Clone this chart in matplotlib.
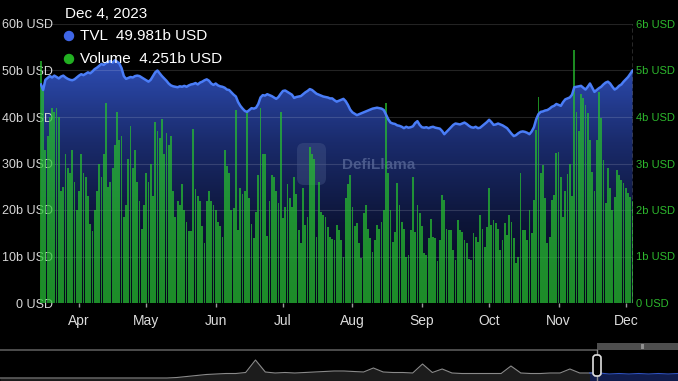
import matplotlib
matplotlib.use('Agg')
import matplotlib.pyplot as plt
import matplotlib.dates as mdates
from matplotlib.colors import LinearSegmentedColormap
from matplotlib.patches import Polygon, FancyBboxPatch, Rectangle, Circle
from matplotlib.transforms import IdentityTransform
import numpy as np
import pandas as pd

# TVL in billions USD, one value per day from 2023-03-15 to 2023-12-04
tvl = [
    47.0, 45.8, 48.0, 48.4, 48.8, 48.5, 48.9, 48.6, 48.3, 48.7,
    48.9, 48.5, 48.2, 48.0, 47.9, 48.1, 48.5, 48.9, 49.2, 49.0,
    49.3, 49.6, 49.4, 49.8, 50.3, 50.6, 51.0, 51.4, 51.2, 51.6,
    51.8, 52.0, 51.7, 52.2, 51.9, 51.5, 50.5, 48.8, 48.2, 48.4,
    48.6, 48.5, 48.8, 48.9, 48.8, 48.5, 48.2, 47.9, 47.6, 48.0,
    48.8, 49.6, 50.0, 49.4, 48.8, 48.3, 47.8, 47.2, 46.8, 46.6,
    46.5, 46.4, 46.6, 46.5, 46.7, 46.5, 46.8, 47.0, 47.1, 47.3,
    47.0, 47.4, 47.6, 47.9, 48.1, 47.8, 47.2, 46.9, 47.2, 46.8,
    46.6, 46.5, 46.3, 45.9, 45.8, 45.3, 44.8, 44.4, 43.2, 42.4,
    41.8, 41.3, 41.1, 41.5, 41.9, 41.8, 42.0, 42.8, 44.2, 44.7,
    44.6, 44.9, 44.7, 44.5, 44.2, 43.9, 44.3, 45.0, 45.6, 45.7,
    45.4, 45.1, 44.8, 44.1, 44.3, 44.4, 44.5, 44.9, 45.3, 45.6,
    46.0, 45.8, 45.4, 45.0, 44.8, 44.6, 44.4, 44.3, 44.2, 44.0,
    44.0, 43.6, 43.3, 43.5, 43.7, 43.9, 43.4, 42.6, 41.6, 41.0,
    40.7, 40.4, 40.6, 40.8, 41.0, 41.2, 41.4, 41.6, 41.8, 41.9,
    42.0, 41.9, 41.8, 41.5, 40.5, 39.5, 38.8, 38.6, 38.5, 38.2,
    38.1, 37.9, 37.6, 37.9, 37.7, 37.8, 38.0, 38.7, 39.1, 38.3,
    37.8, 37.7, 37.8, 37.6, 37.8, 37.9, 37.7, 37.6, 37.5, 37.0,
    36.3, 36.8, 37.3, 37.8, 38.3, 38.6, 38.5, 38.4, 38.6, 38.8,
    38.5, 38.1, 37.8, 37.7, 37.9, 37.6, 37.7, 38.1, 38.5, 38.9,
    39.4, 38.9, 38.3, 38.4, 38.6, 38.4, 38.2, 37.9, 37.6, 37.0,
    36.4, 35.9, 36.1, 36.5, 36.8, 36.9, 36.8, 36.6, 36.3, 36.9,
    37.8, 39.5, 40.6, 41.1, 41.2, 41.4, 41.5, 41.8, 42.2, 42.4,
    42.8, 42.6, 42.4, 43.2, 43.8, 44.0, 44.2, 44.8, 46.4, 46.5,
    46.6, 46.7, 46.3, 45.9, 46.5, 47.2, 46.3, 45.4, 45.8, 46.2,
    46.5, 47.0, 47.4, 47.6, 47.2, 46.5, 45.9, 46.2, 46.7, 47.0,
    47.6, 48.1, 48.6, 49.3, 49.981,
]

# DEX volume in billions USD, same days
volume = [
    5.2, 4.6, 3.3, 3.6, 4.0, 4.2, 4.1, 4.2, 4.0, 2.4,
    2.5, 3.2, 2.9, 2.8, 3.3, 2.6, 2.0, 2.4, 3.2, 2.8,
    2.7, 2.3, 1.7, 1.55, 2.0, 2.4, 3.0, 2.7, 3.2, 4.3,
    2.5, 2.6, 2.9, 3.4, 4.1, 3.5, 3.6, 1.85, 2.1, 3.1,
    3.8, 2.9, 3.3, 2.6, 2.2, 1.6, 2.1, 2.8, 2.6, 3.0,
    2.3, 3.9, 3.7, 3.55, 3.95, 3.2, 3.65, 3.4, 3.6, 2.4,
    1.85, 2.2, 2.1, 2.55, 2.0, 1.75, 1.55, 1.55, 3.75, 2.45,
    2.3, 2.2, 1.65, 1.3, 2.2, 2.4, 2.2, 2.1, 2.0, 1.75,
    1.65, 1.43, 3.3, 2.95, 2.8, 2.0, 2.05, 4.15, 1.57, 2.47,
    2.35, 2.4, 4.1, 2.25, 1.7, 1.4, 1.95, 2.75, 4.2, 3.2,
    3.2, 1.45, 2.2, 2.75, 2.7, 2.4, 2.15, 4.1, 1.82, 2.07,
    2.55, 2.25, 2.07, 2.7, 2.35, 1.57, 1.28, 2.47, 1.67, 1.85,
    3.35, 3.2, 3.1, 1.42, 2.6, 1.95, 1.9, 1.85, 1.63, 1.42,
    1.38, 1.35, 1.68, 1.57, 1.35, 1.0, 2.25, 2.55, 2.75, 2.07,
    1.65, 1.72, 1.28, 0.97, 1.93, 2.1, 1.6, 1.4, 1.1, 1.35,
    1.68, 1.6, 1.75, 2.0, 4.3, 2.8, 2.0, 1.32, 1.53, 2.57,
    2.1, 1.75, 1.6, 1.0, 1.03, 1.57, 2.7, 1.53, 2.1, 1.93,
    1.65, 1.07, 1.03, 1.4, 1.8, 1.42, 1.39, 0.9, 1.35, 2.32,
    2.21, 1.6, 1.57, 1.57, 1.14, 0.92, 1.78, 1.57, 1.53, 1.35,
    1.28, 0.95, 0.92, 1.5, 1.42, 1.32, 1.9, 1.6, 1.21, 1.64,
    2.47, 1.68, 1.78, 1.71, 1.6, 1.14, 1.35, 1.71, 1.46, 1.89,
    1.75, 1.39, 0.85, 1.0, 2.8, 1.57, 1.57, 1.35, 2.0, 1.5,
    2.21, 3.72, 4.44, 2.8, 2.97, 2.25, 1.28, 1.42, 2.21, 2.32,
    3.22, 3.25, 2.72, 1.85, 2.4, 2.78, 3.0, 2.3, 5.44, 4.1,
    3.7, 4.5, 4.4, 4.26, 4.08, 3.5, 2.82, 2.4, 3.5, 4.54,
    3.97, 3.08, 2.14, 2.9, 2.47, 2.0, 2.29, 2.86, 2.75, 2.64,
    2.58, 2.47, 2.36, 2.29, 2.2,
]

months = ['Apr', 'May', 'Jun', 'Jul', 'Aug', 'Sep', 'Oct', 'Nov', 'Dec']
left_labels = ['0 USD', '10b USD', '20b USD', '30b USD', '40b USD', '50b USD', '60b USD']
right_labels = ['0 USD', '1b USD', '2b USD', '3b USD', '4b USD', '5b USD', '6b USD']

# overview strip at the bottom (whole history, relative height)
brush = [
    3, 3, 3, 3, 3, 3, 3, 3, 3, 3,
    3, 3, 3, 3, 3, 3, 3, 3, 3.5, 4.5,
    5.5, 6.5, 7, 7.5, 7.5, 8.5, 21, 9, 8, 8.5,
    8, 8.5, 9, 9.5, 10, 10, 9.5, 9, 13, 9,
    8.5, 8.5, 8, 17, 8.5, 12, 8, 7.5, 7.5, 7.5,
    7.5, 7.5, 15, 8, 7.5, 7.5, 8, 8, 12, 8,
    8, 8, 7, 7.5, 7, 7.5, 7, 7.5, 7, 7.5,
]

plt.rcParams['font.family'] = ['Liberation Sans', 'DejaVu Sans']

W, H = 678, 381
dates = pd.date_range('2023-03-15', periods=len(tvl), freq='D')
x = mdates.date2num(dates)

fig = plt.figure(figsize=(W / 100, H / 100), dpi=100, facecolor='black')
ax = fig.add_axes([40 / W, 78 / H, 593 / W, 279 / H])
ax.set_facecolor('black')

# gradient under the TVL line
cmap = LinearSegmentedColormap.from_list(
    'tvl', ['#05071a', '#0d1538', '#1a2b6c', '#2d4cb2'])
grad = np.linspace(0, 1, 256).reshape(-1, 1)
im = ax.imshow(grad, extent=[x[0] - 0.5, x[-1] + 0.5, 0, 52], origin='lower',
               aspect='auto', cmap=cmap, zorder=1)
verts = [(x[0], 0)] + list(zip(x, tvl)) + [(x[-1], 0)]
clip = Polygon(verts, closed=True, facecolor='none', edgecolor='none',
               transform=ax.transData)
ax.add_patch(clip)
im.set_clip_path(clip)

for v in range(10, 61, 10):
    ax.axhline(v, color='white', alpha=0.14, lw=0.8, zorder=2)

# watermark
ax.text((379 - 40) / 593, (303 - 165) / 279, 'DefiLlama', transform=ax.transAxes,
        color='#5a6a9a', alpha=0.75, fontsize=11, fontweight='bold',
        ha='center', va='center', zorder=2.5)
ax.add_patch(FancyBboxPatch((297, 196), 29, 42,
                            boxstyle='round,pad=0,rounding_size=7',
                            facecolor='#4a5b8c', alpha=0.4, edgecolor='none',
                            transform=IdentityTransform(), zorder=2.5))

# volume bars (drawn on the TVL scale, right axis shows volume)
ax.bar(x, np.array(volume) * 10, width=0.8, color='#27c02f', alpha=0.72,
       linewidth=0, zorder=3)
ax.plot(x, tvl, color='#4a7df7', lw=1.8, zorder=4, solid_joinstyle='round')
ax.axvline(x[-1], color='#cfcfcf', lw=1, ls=(0, (3, 2)), zorder=5)

ax.set_xlim(x[0] - 0.4, x[-1] + 0.2)
ax.set_ylim(0, 60)
for s in ax.spines.values():
    s.set_visible(False)

ax.set_yticks(range(0, 61, 10))
ax.set_yticklabels(left_labels)
ax.tick_params(axis='y', length=0, pad=-9.0, labelcolor='#d8d8d8', labelsize=9)

month_starts = pd.date_range('2023-04-01', periods=len(months), freq='MS')
ax.set_xticks(mdates.date2num(month_starts))
ax.set_xticklabels(months)
ax.tick_params(axis='x', length=3, width=1, color='#9a9a9a', pad=5,
               labelcolor='#dcdcdc', labelsize=10)

sec = ax.secondary_yaxis('right', functions=(lambda v: v / 10, lambda v: v * 10))
sec.set_yticks(range(7))
sec.set_yticklabels(right_labels)
sec.tick_params(length=0, pad=2.5, labelcolor='#2db82d', labelsize=8)
for s in sec.spines.values():
    s.set_visible(False)

# tooltip
fig.text(65 / W, 1 - 14 / H, 'Dec 4, 2023', color='white', fontsize=11, va='center')
fig.add_artist(Circle((69, H - 36), 4.5, color='#3f66e6', transform=IdentityTransform()))
fig.text(80 / W, 1 - 36 / H, 'TVL  49.981b USD', color='white', fontsize=11, va='center')
fig.add_artist(Circle((69, H - 59), 4.5, color='#22b022', transform=IdentityTransform()))
fig.text(80 / W, 1 - 59 / H, 'Volume  4.251b USD', color='white', fontsize=11, va='center')

# overview brush
ax_b = fig.add_axes([0, 0, 1, 38 / H])
ax_b.set_facecolor('black')
ax_b.set_axis_off()
n = len(brush)
ax_b.set_xlim(0, n - 1)
ax_b.set_ylim(0, 38)
idx = np.arange(n)
sel = 597 / W * (n - 1)
cut = int(np.ceil(sel))
ax_b.fill_between(idx[:cut + 1], brush[:cut + 1], color='#1c1c1c', lw=0)
ax_b.plot(idx[:cut + 1], brush[:cut + 1], color='#8a8a8a', lw=0.8)
ax_b.fill_between(idx[cut - 1:], brush[cut - 1:], color='#101c4c', lw=0)
ax_b.plot(idx[cut - 1:], brush[cut - 1:], color='#2f52c0', lw=0.8)
ax_b.plot([0, sel], [31, 31], color='#5a5a5a', lw=1.2)
ax_b.add_patch(Rectangle((sel, 31), n - 1 - sel, 7, facecolor='#4e4e4e', lw=0))
ax_b.text(643 / W * (n - 1), 34.5, '|||', color='#d0d0d0', fontsize=4,
          ha='center', va='center')
ax_b.plot([sel, sel], [0, 31], color='#8a8a8a', lw=1)
fig.add_artist(FancyBboxPatch((593, 5), 8, 21, boxstyle='round,pad=0,rounding_size=3',
                              facecolor='black', edgecolor='#e0e0e0', lw=1.2,
                              transform=IdentityTransform()))

fig.savefig('out.png', dpi=100, facecolor='black')
